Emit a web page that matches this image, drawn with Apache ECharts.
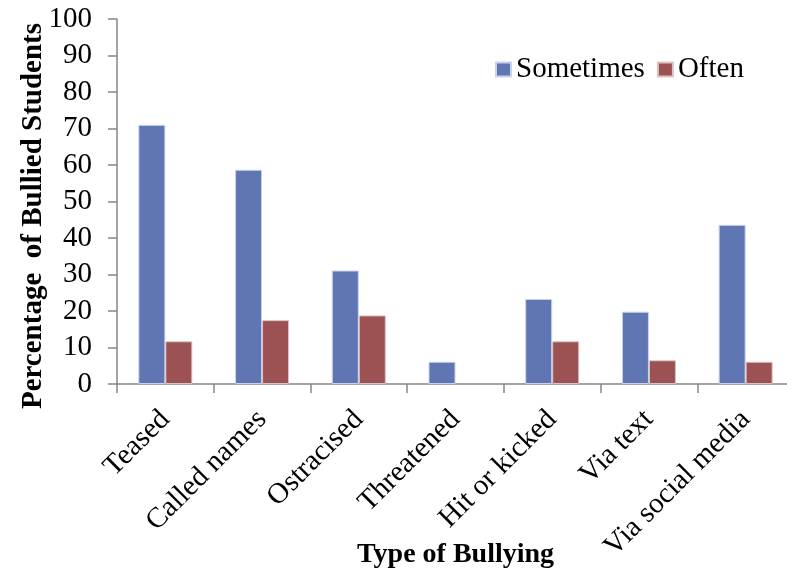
<!DOCTYPE html>
<html>
<head>
<meta charset="utf-8">
<script src="https://cdn.jsdelivr.net/npm/echarts@6/dist/echarts.min.js"></script>
<style>
  html, body { margin: 0; padding: 0; background: #fff; }
  #chart { width: 787px; height: 576px; }
</style>
</head>
<body>
<div id="chart"></div>
<script>
// Types of bullying reported, share of bullied students (%)
const categories = ['Teased', 'Called names', 'Ostracised', 'Threatened', 'Hit or kicked', 'Via text', 'Via social media'];
const sometimes = [71, 58.7, 31.1, 6.1, 23.3, 19.8, 43.6];
const often = [11.7, 17.5, 18.8, 0, 11.7, 6.5, 6.1];
const yTicks = [0, 10, 20, 30, 40, 50, 60, 70, 80, 90, 100];

const FONT = '"Liberation Serif", "Times New Roman", serif';
const AXIS_GRAY = '#868686';

// zero-height bars get no outline so they stay invisible
const toBarData = (values) => values.map(v => v === 0 ? { value: v, itemStyle: { borderWidth: 0 } } : v);

const chart = echarts.init(document.getElementById('chart'), null, { renderer: 'canvas' });

chart.setOption({
  animation: false,
  backgroundColor: '#ffffff',
  grid: { left: 117, right: -7, top: 19, bottom: 192, containLabel: false, outerBoundsMode: 'none' },
  legend: {
    data: ['Sometimes', 'Often'],
    left: 490,
    top: 50,
    itemWidth: 15,
    itemHeight: 14,
    itemGap: 12,
    icon: 'rect',
    textStyle: { fontFamily: FONT, fontSize: 29, color: '#000' }
  },
  xAxis: {
    type: 'category',
    data: categories,
    boundaryGap: true,
    axisLine: { lineStyle: { color: AXIS_GRAY, width: 1.5 } },
    axisTick: { show: true, length: 9, alignWithLabel: false, lineStyle: { color: AXIS_GRAY, width: 1.5 } },
    axisLabel: {
      interval: 0,
      rotate: 45,
      margin: 31,
      fontFamily: FONT,
      fontSize: 29,
      color: '#000'
    },
    name: 'Type of Bullying',
    nameLocation: 'middle',
    nameGap: 157,
    nameMoveOverlap: false,
    nameTextStyle: { fontFamily: FONT, fontSize: 28, fontWeight: 'bold', color: '#000' }
  },
  yAxis: {
    type: 'value',
    min: yTicks[0],
    max: yTicks[yTicks.length - 1],
    interval: 10,
    splitLine: { show: false },
    axisLine: { show: true, lineStyle: { color: AXIS_GRAY, width: 1.5 } },
    axisTick: { show: true, length: 9, lineStyle: { color: AXIS_GRAY, width: 1.5 } },
    axisLabel: { margin: 25, fontFamily: FONT, fontSize: 29, color: '#000' }
  },
  graphic: [{
    type: 'text',
    x: 34,
    y: 216,
    rotation: Math.PI / 2,
    style: {
      text: 'Percentage  of Bullied Students',
      fontFamily: FONT,
      fontSize: 29,
      fontWeight: 'bold',
      fill: '#000',
      align: 'center',
      verticalAlign: 'middle'
    }
  }],
  series: [
    {
      name: 'Sometimes',
      type: 'bar',
      data: toBarData(sometimes),
      barWidth: 27,
      barGap: '0%',
      itemStyle: { color: '#6076B4', borderColor: '#c9d2ea', borderWidth: 1 }
    },
    {
      name: 'Often',
      type: 'bar',
      data: toBarData(often),
      barWidth: 27,
      itemStyle: { color: '#9C5252', borderColor: '#dcc3c3', borderWidth: 1 }
    }
  ]
});
</script>
</body>
</html>
